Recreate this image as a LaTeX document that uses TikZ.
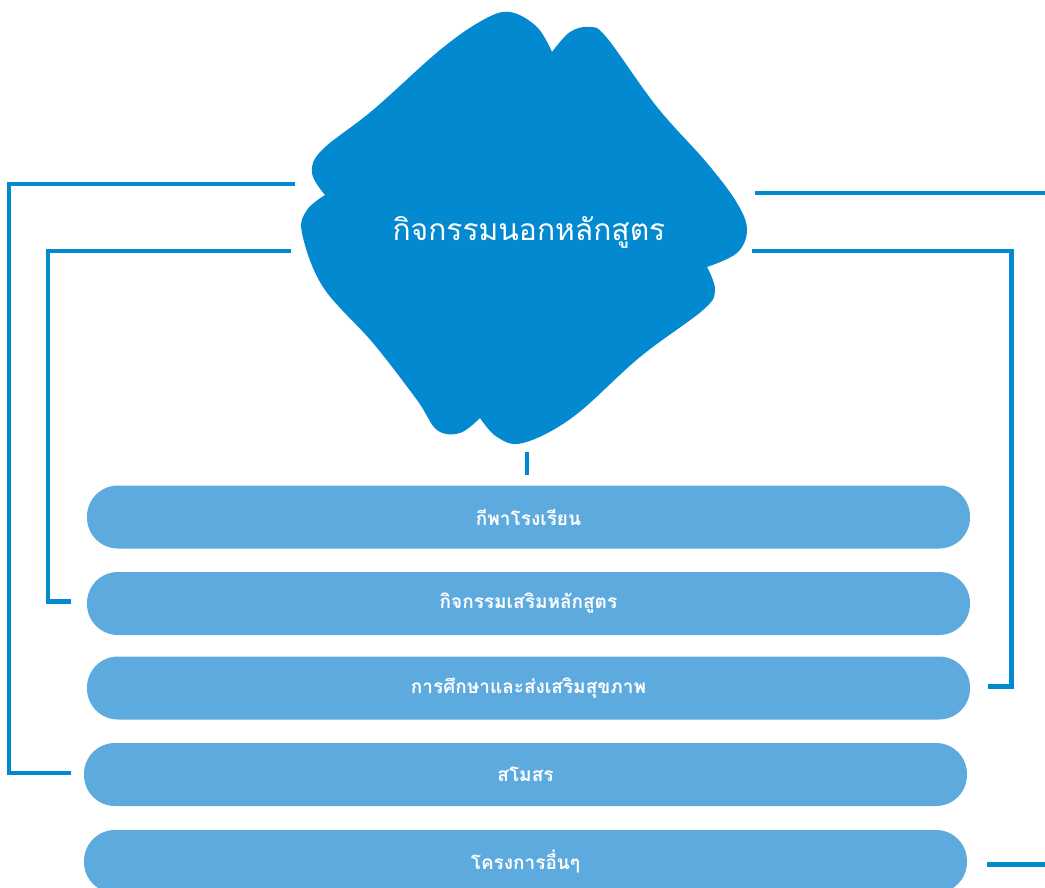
\documentclass[tikz,border=0pt]{standalone}
\usepackage{fontspec}
\newfontfamily\thaifont[Script=Thai]{Loma}
\usetikzlibrary{positioning}
\usetikzlibrary{calc}
\definecolor{blobblue}{RGB}{2,137,208}
\definecolor{barblue}{RGB}{93,170,223}

\begin{document}
\begin{tikzpicture}[x=1pt,y=-1pt,
bar/.style={fill=barblue, rounded corners=31pt, minimum height=63pt,
  minimum width=883pt, inner sep=0pt, text=white, font=\thaifont\bfseries\fontsize{19}{22}\selectfont},
topic/.style={text=white, font=\thaifont\fontsize{30}{34}\selectfont},
link/.style={draw=blobblue, line width=4.6pt}]
\useasboundingbox (0,0) rectangle (1045,888);
\clip (0,0) rectangle (1045,888);
% the blob
\fill[blobblue] plot[smooth,tension=.6] coordinates {(552,52) (570,32) (590,27) (607,38) (657,107) (707,163) (737,203) (747,230) (737,253) (707,267)}
  -- plot[smooth,tension=.6] coordinates {(707,267) (715,290) (703,310) (640,357) (573,417) (523,443) (497,437) (480,418)}
  -- plot[smooth,tension=.6] coordinates {(480,418) (460,433) (437,430) (417,400) (373,343) (323,287) (302,233) (307,210) (325,195)}
  -- plot[smooth,tension=.6] coordinates {(325,195) (312,173) (322,150) (373,110) (440,50) (483,20) (510,12) (537,27) (552,52)}
  -- cycle;
\node[topic] (topic) at (529,232) {กิจกรรมนอกหลักสูตร};
% the bars
\node[bar] (b1) at (528.5,517) {กีพาโรงเรียน};
\node[bar] (b2) at (528.5,603.5) {กิจกรรมเสริมหลักสูตร};
\node[bar] (b3) at (528.5,688) {การศึกษาและส่งเสริมสุขภาพ};
\node[bar] (b4) at (525.5,774.5) {สโมสร};
\node[bar] (b5) at (525.5,861.5) {โครงการอื่นๆ};
% the links
\coordinate (tl1) at (295,184);
\coordinate (tl2) at (291,251);
\coordinate (tr1) at (755,193);
\coordinate (tr2) at (752,251);
\coordinate (stub) at (527,452);
\coordinate (edge) at (1046,864.5);
\draw[link] (tl1) -| ($(b4.west)+(-75,-1.5)$) -- ([xshift=-13pt,yshift=1.5pt]b4.west);
\draw[link] (tl2) -| ($(b2.west)+(-39,-2)$) -- ([xshift=-16pt,yshift=2pt]b2.west);
\draw[link] (tr1) -- (tr1 -| edge);
\draw[link] (tr2) -| ($(b3.east)+(41,-1.5)$) -- ([xshift=18pt,yshift=1.5pt]b3.east);
\draw[link] ([xshift=20pt,yshift=-3pt]b5.east) -- (edge);
\draw[link] (stub) -- ++(0,23);
\end{tikzpicture}
\end{document}
